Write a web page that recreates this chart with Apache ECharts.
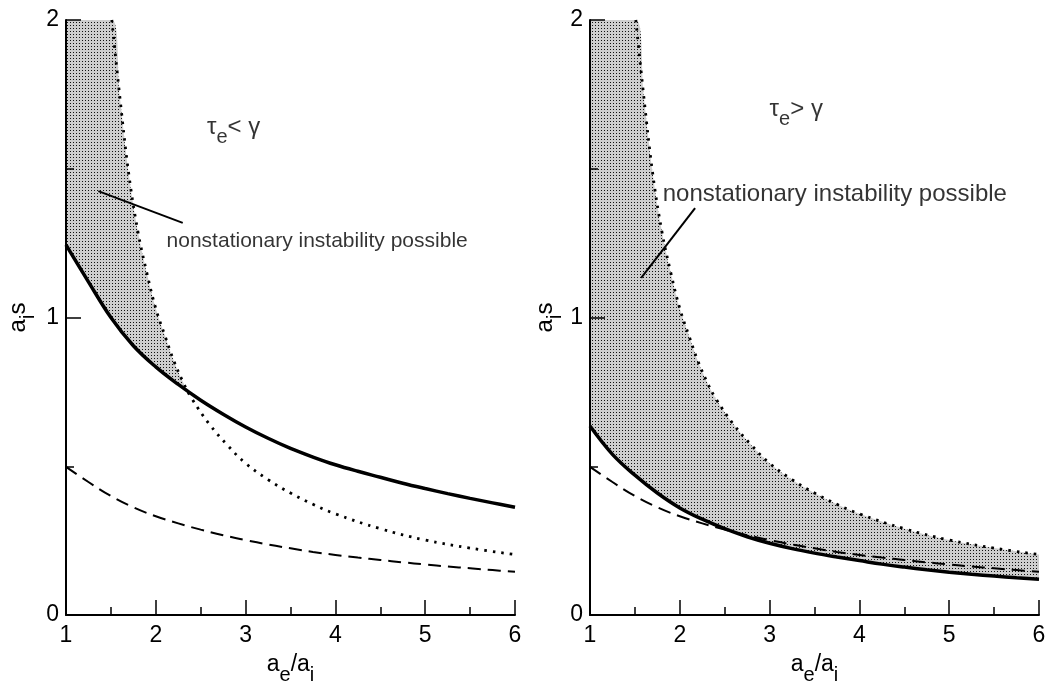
<!DOCTYPE html>
<html>
<head>
<meta charset="utf-8">
<script src="https://cdn.jsdelivr.net/npm/echarts@6/dist/echarts.min.js"></script>
<style>
  html, body { margin: 0; background: #fff; }
  #chart { width: 1061px; height: 688px; }
</style>
</head>
<body>
<div id="chart"></div>
<script>
// x = a_e / a_i
const xs = [1, 1.25, 1.5, 1.75, 2, 2.25, 2.5, 2.75, 3, 3.25, 3.5, 3.75, 4, 4.25, 4.5, 4.75, 5, 5.25, 5.5, 5.75, 6];
// thick solid curve, tau_e < gamma
const solidLeft = [1.244, 1.12, 1.0, 0.905, 0.834, 0.775, 0.722, 0.675, 0.632, 0.594, 0.56, 0.531, 0.505, 0.483, 0.463, 0.443, 0.425, 0.408, 0.392, 0.377, 0.362];
// thick solid curve, tau_e > gamma
const solidRight = [0.635, 0.54, 0.47, 0.41, 0.36, 0.322, 0.29, 0.263, 0.241, 0.223, 0.208, 0.195, 0.183, 0.171, 0.161, 0.152, 0.144, 0.137, 0.131, 0.125, 0.12];
// dashed curve (same in both panels)
const dashed = [0.498, 0.447, 0.4, 0.362, 0.332, 0.308, 0.287, 0.268, 0.252, 0.237, 0.224, 0.212, 0.202, 0.193, 0.185, 0.177, 0.17, 0.163, 0.157, 0.151, 0.145];
// dotted boundary curve (same in both panels)
const dottedX = [1.51, 1.6, 1.7, 1.8, 1.9, 2.0, 2.1, 2.2, 2.3, 2.4, 2.6, 2.8, 3.0, 3.25, 3.5, 3.75, 4.0, 4.5, 5.0, 5.5, 6.0];
const dottedY = [2.0, 1.74, 1.48, 1.29, 1.15, 1.03, 0.94, 0.855, 0.785, 0.728, 0.64, 0.57, 0.51, 0.455, 0.41, 0.372, 0.34, 0.29, 0.252, 0.225, 0.203];
// shaded region is capped at the top of the plot
const capX = [1, 1.51];
const capY = [2, 2];

const xTicks = [1, 2, 3, 4, 5, 6];
const yTicks = [0, 1, 2];

const FONT = '"Liberation Sans", Arial, sans-serif';

const pairs = (a, b) => a.map((v, i) => [v, b[i]]);
const dotted = pairs(dottedX, dottedY);
const shadeTop = pairs(capX, capY).concat(dotted.slice(1));

// stipple pattern for the shaded region
const pat = document.createElement('canvas');
pat.width = 3;
pat.height = 3;
const pctx = pat.getContext('2d');
pctx.fillStyle = '#cecece';
pctx.fillRect(0, 0, 3, 3);
pctx.fillStyle = '#111';
pctx.fillRect(1, 1, 1, 1);

// base text + dropped subscript (sub sits at the bottom of a 40px line)
const rich = (size, subSize) => ({
  b: { fontSize: size, lineHeight: 40, verticalAlign: 'middle', fontFamily: FONT, color: '#000' },
  sub: { fontSize: subSize, lineHeight: 13, verticalAlign: 'bottom', fontFamily: FONT, color: '#000' },
});

const makeX = (gi) => ({
  type: 'value',
  gridIndex: gi,
  min: xTicks[0],
  max: xTicks[xTicks.length - 1],
  interval: 1,
  z: 5,
  name: '{b|a}{sub|e}{b|/a}{sub|i}',
  nameLocation: 'middle',
  nameGap: 30,
  nameTextStyle: { rich: rich(23, 20) },
  axisLine: { lineStyle: { color: '#000', width: 2 } },
  axisTick: { inside: true, length: 15, lineStyle: { color: '#000', width: 1.5 } },
  minorTick: { show: true, splitNumber: 2, length: 8, lineStyle: { color: '#000', width: 1.5 } },
  axisLabel: { fontSize: 23, color: '#000', fontFamily: FONT, margin: 9 },
  splitLine: { show: false },
});

const makeY = (gi, gap) => ({
  type: 'value',
  gridIndex: gi,
  min: yTicks[0],
  max: yTicks[yTicks.length - 1],
  interval: 1,
  z: 5,
  name: '{b|a}{sub|i}{b|s}',
  nameLocation: 'middle',
  nameGap: gap,
  nameTextStyle: { rich: rich(24, 20) },
  axisLine: { show: true, lineStyle: { color: '#000', width: 2 } },
  axisTick: { inside: true, length: 15, lineStyle: { color: '#000', width: 1.5 } },
  minorTick: { show: true, splitNumber: 2, length: 8, lineStyle: { color: '#000', width: 1.5 } },
  axisLabel: { fontSize: 23, color: '#000', fontFamily: FONT, margin: 7 },
  splitLine: { show: false },
});

const line = (gi, data, style, extra) => Object.assign({
  type: 'line',
  xAxisIndex: gi,
  yAxisIndex: gi,
  data: data,
  showSymbol: false,
  symbol: 'none',
  smooth: 0.4,
  lineStyle: style,
  silent: true,
}, extra || {});

const panelSeries = (gi, solid, notes) => [
  line(gi, shadeTop, { width: 0 }, { areaStyle: { color: { image: pat, repeat: 'repeat' }, opacity: 1 } }),
  line(gi, pairs(xs, solid), { color: '#000', width: 3.5 }, { areaStyle: { color: '#fff', opacity: 1 } }),
  line(gi, pairs(xs, dashed), { color: '#000', width: 2, type: [13, 7] }),
  line(gi, dotted, { color: '#000', width: 2.8, type: [2.5, 6] }),
  {
    type: 'scatter',
    xAxisIndex: gi,
    yAxisIndex: gi,
    symbolSize: 0,
    silent: true,
    data: notes.texts.map((t) => ({
      value: t.at,
      label: {
        show: true,
        position: 'right',
        distance: 0,
        formatter: t.text,
        fontSize: t.size,
        fontFamily: FONT,
        color: '#000',
        rich: rich(t.size, t.sub || t.size),
      },
    })),
    markLine: {
      silent: true,
      symbol: ['none', 'none'],
      label: { show: false },
      lineStyle: { color: '#000', width: 2, type: 'solid' },
      data: [[{ coord: notes.pointer[0] }, { coord: notes.pointer[1] }]],
    },
  },
];

const leftNotes = {
  texts: [
    { at: [2.57, 1.64], text: '{b|τ}{sub|e}{b|< γ}', size: 24, sub: 20 },
    { at: [2.12, 1.257], text: 'nonstationary instability possible', size: 21 },
  ],
  pointer: [[1.36, 1.425], [2.30, 1.318]],
};
const rightNotes = {
  texts: [
    { at: [3.0, 1.70], text: '{b|τ}{sub|e}{b|> γ}', size: 24, sub: 20 },
    { at: [1.81, 1.413], text: 'nonstationary instability possible', size: 24 },
  ],
  pointer: [[2.17, 1.368], [1.57, 1.133]],
};

const chart = echarts.init(document.getElementById('chart'), null, { renderer: 'canvas' });
chart.setOption({
  animation: false,
  backgroundColor: '#fff',
  grid: [
    { left: 66, right: 546, top: 20, bottom: 73, containLabel: false, outerBoundsMode: 'none' },
    { left: 590, right: 22, top: 20, bottom: 73, containLabel: false, outerBoundsMode: 'none' },
  ],
  xAxis: [makeX(0), makeX(1)],
  yAxis: [makeY(0, 28), makeY(1, 25)],
  series: panelSeries(0, solidLeft, leftNotes).concat(panelSeries(1, solidRight, rightNotes)),
});
</script>
</body>
</html>
